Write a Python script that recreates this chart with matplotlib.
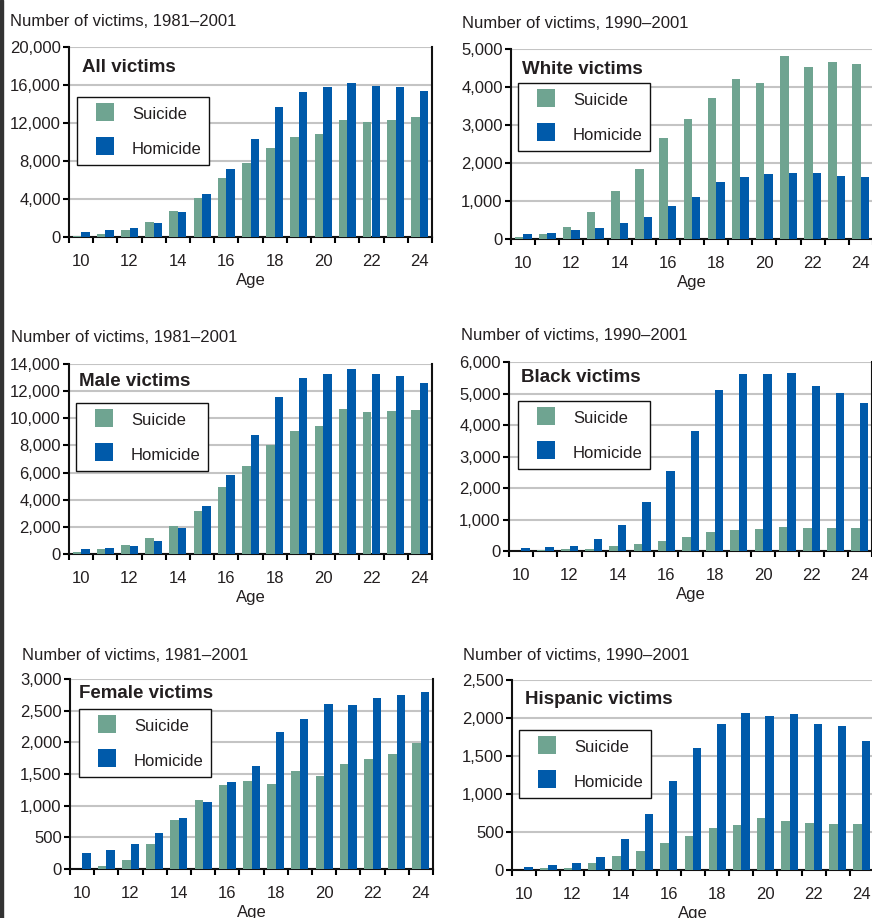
import matplotlib
matplotlib.use("Agg")
import matplotlib.pyplot as plt
from matplotlib.lines import Line2D
from matplotlib.patches import Rectangle
from matplotlib.ticker import FuncFormatter
import numpy as np

plt.rcParams['font.family'] = ['Liberation Sans', 'DejaVu Sans']

# Dados
ages = list(range(10, 25))

all_suicide = [150, 350, 770, 1600, 2760, 4130, 6220, 7800, 9370, 10520, 10840, 12310, 12100, 12310, 12620]
all_homicide = [560, 770, 980, 1500, 2660, 4550, 7170, 10310, 13670, 15240, 15770, 16190, 15870, 15770, 15350]

white_suicide = [50, 130, 320, 710, 1270, 1850, 2660, 3160, 3720, 4220, 4110, 4820, 4530, 4670, 4610]
white_homicide = [130, 160, 240, 290, 420, 580, 870, 1110, 1500, 1630, 1710, 1740, 1740, 1660, 1630]

male_suicide = [170, 390, 690, 1200, 2080, 3190, 4950, 6500, 8040, 9070, 9440, 10690, 10470, 10540, 10610]
male_homicide = [390, 470, 610, 980, 1940, 3550, 5830, 8770, 11570, 12970, 13260, 13630, 13260, 13110, 12600]

black_suicide = [10, 30, 50, 50, 150, 210, 320, 430, 590, 660, 690, 750, 720, 720, 720]
black_homicide = [85, 120, 150, 370, 810, 1545, 2530, 3800, 5100, 5610, 5610, 5640, 5230, 5005, 4690]

female_suicide = [5, 50, 150, 400, 780, 1090, 1320, 1390, 1350, 1550, 1470, 1660, 1730, 1820, 1990]
female_homicide = [260, 305, 400, 575, 810, 1060, 1380, 1630, 2170, 2370, 2610, 2590, 2705, 2750, 2800]

hispanic_suicide = [5, 25, 25, 90, 185, 250, 355, 450, 550, 590, 685, 645, 620, 605, 605]
hispanic_homicide = [40, 65, 90, 170, 410, 740, 1170, 1605, 1920, 2065, 2025, 2050, 1920, 1895, 1700]

titles = ['All victims', 'White victims', 'Male victims',
          'Black victims', 'Female victims', 'Hispanic victims']
periods = ['Number of victims, 1981\u20132001', 'Number of victims, 1990\u20132001',
           'Number of victims, 1981\u20132001', 'Number of victims, 1990\u20132001',
           'Number of victims, 1981\u20132001', 'Number of victims, 1990\u20132001']
y_max = [20000, 5000, 14000, 6000, 3000, 2500]
y_step = [4000, 1000, 2000, 1000, 500, 500]
suicides = [all_suicide, white_suicide, male_suicide, black_suicide, female_suicide, hispanic_suicide]
homicides = [all_homicide, white_homicide, male_homicide, black_homicide, female_homicide, hispanic_homicide]

# Layout em pixels: (esq, topo, dir, base) dos eixos, cabeçalho, título, legenda
W, H = 872, 918
axes_px = [(69, 47, 432, 237), (511, 49, 873, 239),
           (69, 364, 432, 554), (509, 362, 872, 551),
           (70, 679, 433, 869), (512, 680, 874, 870)]
header_px = [(10, 21), (462, 24), (11, 337), (461, 335), (22, 655), (463, 655)]
title_px = [(82, 67), (522, 69), (79, 381), (521, 377), (79, 693), (525, 700)]
legend_px = [(77, 97), (518, 83), (76, 403), (518, 401), (79, 709), (519, 730)]

SUI = '#6fa491'
HOM = '#005aaa'
TXT = '#231f20'

fig = plt.figure(figsize=(W / 100, H / 100), dpi=100)
fig.patches.append(Rectangle((0, 0), 3 / W, 1, transform=fig.transFigure,
                             color='#333333', zorder=10))


def fx(px):
    return px / W


def fy(py):
    return 1 - py / H


x = np.arange(len(ages))
bw = 0.35

for k in range(6):
    l, t, r, b = axes_px[k]
    ax = fig.add_axes([fx(l), fy(b), (r - l) / W, (b - t) / H])

    ax.bar(x - bw / 2, suicides[k], width=bw, color=SUI, zorder=3, label='Suicide')
    ax.bar(x + bw / 2, homicides[k], width=bw, color=HOM, zorder=3, label='Homicide')

    ax.set_xlim(-0.5, len(ages) - 0.5)
    ax.set_ylim(0, y_max[k])

    # Grade e bordas
    ax.set_yticks(np.arange(0, y_max[k] + 1, y_step[k]))
    ax.yaxis.set_major_formatter(FuncFormatter(lambda v, p: f'{int(v):,}'))
    ax.grid(True, axis='y', color='#c4c4c4', linewidth=1.5, zorder=0)
    ax.set_axisbelow(True)
    ax.spines['top'].set_visible(False)
    for s in ['left', 'bottom', 'right']:
        ax.spines[s].set_linewidth(1.5)
        ax.spines[s].set_color('#111111')

    # Ticks do eixo x nas divisões, rótulos nas idades pares
    ax.set_xticks(np.arange(-0.5, len(ages), 1.0))
    ax.set_xticklabels([])
    even = [i for i, a in enumerate(ages) if a % 2 == 0]
    ax.set_xticks(even, minor=True)
    ax.set_xticklabels([str(ages[i]) for i in even], minor=True)
    ax.tick_params(axis='x', which='major', length=4, width=1.5, direction='out')
    ax.tick_params(axis='x', which='minor', length=0, pad=12, labelsize=12, labelcolor=TXT)
    ax.tick_params(axis='y', length=4, width=1.5, pad=2, labelsize=12, labelcolor=TXT)
    ax.set_xlabel('Age', fontsize=12, color=TXT, labelpad=3)

    # Cabeçalho e título interno
    hx, hy = header_px[k]
    fig.text(fx(hx), fy(hy), periods[k], fontsize=12, color=TXT, ha='left', va='center')
    tx, ty = title_px[k]
    fig.text(fx(tx), fy(ty), titles[k], fontsize=13.5, fontweight='bold', color=TXT,
             ha='left', va='center')

    # Legenda
    handles = [Line2D([], [], linestyle='none', marker='s', markersize=13,
                      markerfacecolor=SUI, markeredgewidth=0),
               Line2D([], [], linestyle='none', marker='s', markersize=13,
                      markerfacecolor=HOM, markeredgewidth=0)]
    lx, ly = legend_px[k]
    leg = ax.legend(handles, ['Suicide', 'Homicide'], loc='upper left',
                    bbox_to_anchor=(fx(lx), fy(ly)), bbox_transform=fig.transFigure,
                    borderaxespad=0, fontsize=12, frameon=True, fancybox=False,
                    framealpha=1, edgecolor='#111111', numpoints=1,
                    handlelength=2.4, handleheight=1.35, handletextpad=0.45,
                    borderpad=0.45, labelspacing=0.94)
    leg.get_frame().set_linewidth(1.0)
    for txt in leg.get_texts():
        txt.set_color(TXT)

fig.savefig('out.png', dpi=100)
